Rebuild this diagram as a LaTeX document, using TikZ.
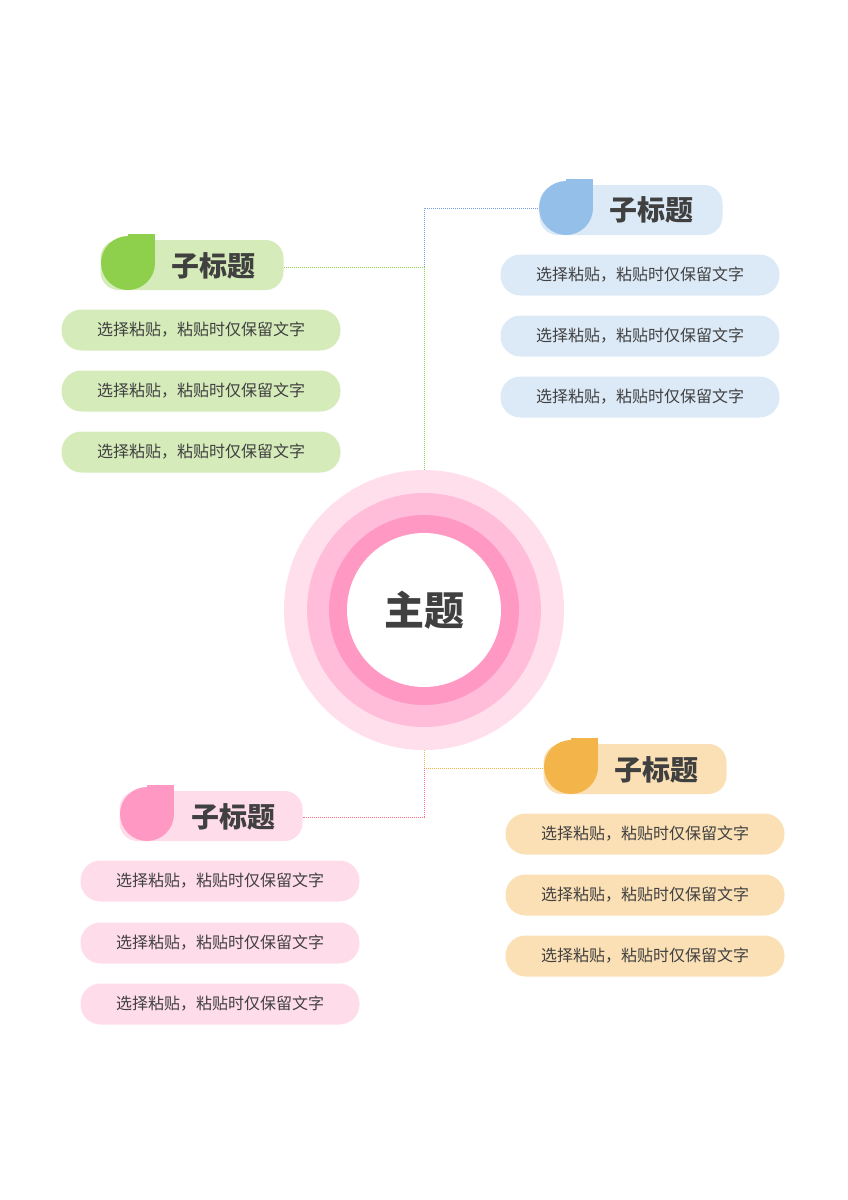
\documentclass[tikz,border=0pt]{standalone}
\usepackage{fontspec}
\setmainfont{Noto Sans CJK SC}
\usepackage{xcolor}
\definecolor{grnleaf}{HTML}{8ED04B}
\definecolor{grnbox}{HTML}{D5EBBA}
\definecolor{bluleaf}{HTML}{94BFE9}
\definecolor{blubox}{HTML}{DCE9F7}
\definecolor{orgleaf}{HTML}{F3B54A}
\definecolor{orgbox}{HTML}{FBE0B5}
\definecolor{pnkleaf}{HTML}{FF99C4}
\definecolor{pnkbox}{HTML}{FFDCEA}
\definecolor{txt}{HTML}{404040}
\tikzset{
  titlebox/.style={rectangle, rounded corners=18pt, minimum width=183pt, minimum height=50pt, inner sep=0pt},
  itembox/.style={rectangle, rounded corners=20pt, minimum width=279pt, minimum height=41pt, inner sep=0pt,
    text=txt, font=\fontsize{16}{18}\selectfont},
  titletext/.style={text=txt, font=\fontsize{28}{32}\selectfont\bfseries},
  link/.style={densely dotted, line width=1pt}
}
\begin{document}
\begin{tikzpicture}[x=1pt,y=-1pt]
    \useasboundingbox (0,0) rectangle (848,1200);

    % Central topic
    \fill[pnkbox!90!white] (424,610) circle (140);
    \fill[pnkleaf!65!white] (424,610) circle (117);
    \fill[pnkleaf] (424,610) circle (95);
    \fill[white] (424,610) circle (77);
    \node[text=txt, font=\fontsize{40}{44}\selectfont\bfseries] (main) at (424,610) {主题};

    % Title boxes
    \node[titlebox, fill=grnbox] (tg) at (192,265) {};
    \node[titlebox, fill=blubox] (tb) at (631,210) {};
    \node[titlebox, fill=orgbox] (to) at (635,769) {};
    \node[titlebox, fill=pnkbox] (tp) at (211,816) {};

    % Connectors
    \coordinate (hubtop) at (424,470);
    \coordinate (hubg) at (424,267);
    \coordinate (hubb) at (424,208);
    \coordinate (hubbot) at (424,750);
    \coordinate (hubo) at (424,768);
    \coordinate (hubp) at (424,817);
    \draw[link, grnleaf] (hubtop) -- (hubg) -- (tg.east |- hubg);
    \draw[link, bluleaf!80!blue] (hubg) -- (hubb) -- (tb.west |- hubb);
    \draw[link, orgleaf] (hubbot) -- (hubo) -- (to.west |- hubo);
    \draw[link, pnkleaf!70!red] (hubo) -- (hubp) -- (tp.east |- hubp);

    % Leaves
    \fill[grnleaf] (128,263) circle (27);
    \fill[grnleaf] (128,263) rectangle (155,234);
    \fill[bluleaf] (566,208) circle (27);
    \fill[bluleaf] (566,208) rectangle (593,179);
    \fill[orgleaf] (571,767) circle (27);
    \fill[orgleaf] (571,767) rectangle (598,738);
    \fill[pnkleaf] (147,814) circle (27);
    \fill[pnkleaf] (147,814) rectangle (174,785);

    % Title texts
    \node[titletext] (lg) at (213,266) {子标题};
    \node[titletext] (lb) at (651,210) {子标题};
    \node[titletext] (lo) at (656,770) {子标题};
    \node[titletext] (lp) at (233,817) {子标题};

    % Items
    \foreach \y [count=\i] in {330,391,452}
        \node[itembox, fill=grnbox] (ig\i) at (201,\y) {选择粘贴，粘贴时仅保留文字};
    \foreach \y [count=\i] in {275,336,397}
        \node[itembox, fill=blubox] (ib\i) at (640,\y) {选择粘贴，粘贴时仅保留文字};
    \foreach \y [count=\i] in {834,895,956}
        \node[itembox, fill=orgbox] (io\i) at (645,\y) {选择粘贴，粘贴时仅保留文字};
    \foreach \y [count=\i] in {881,943,1004}
        \node[itembox, fill=pnkbox] (ip\i) at (220,\y) {选择粘贴，粘贴时仅保留文字};
\end{tikzpicture}
\end{document}
